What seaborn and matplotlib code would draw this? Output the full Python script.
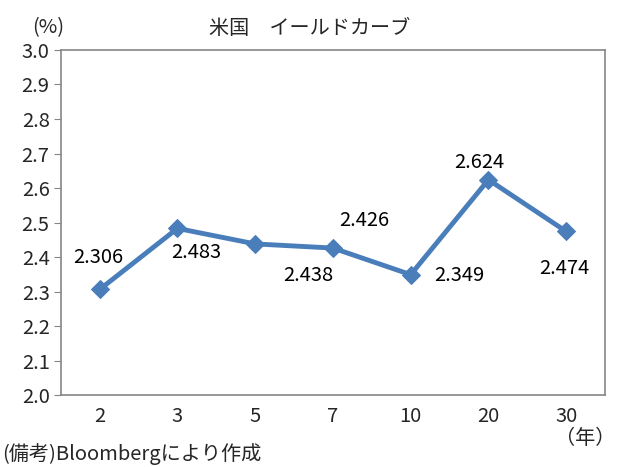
import matplotlib
matplotlib.use("Agg")
import numpy as np
import pandas as pd
import seaborn as sns
import matplotlib.pyplot as plt

# data
maturities = ["2", "3", "5", "7", "10", "20", "30"]
yields = [2.306, 2.483, 2.438, 2.426, 2.349, 2.624, 2.474]
# label offsets in pixels (dx, dy)
label_offsets = [(-1, 32), (19, -24), (53, -32), (31, 28), (49, -1), (-9, 17), (-2, -37)]

sns.set_style("white")
plt.rcParams['font.family'] = ['Noto Sans CJK JP', 'DejaVu Sans']

df = pd.DataFrame({"maturity": maturities, "yield": yields})

fig = plt.figure(figsize=(6.2, 4.67), dpi=100)
ax = fig.add_axes([0.098, 0.154, 0.878, 0.739])

line_color = "#4A7EBB"
sns.lineplot(data=df, x="maturity", y="yield", sort=False, ax=ax,
             color=line_color, linewidth=3.5, marker="D", markersize=9,
             markeredgecolor=line_color, markerfacecolor=line_color)

fs = 14.5
for i, (v, off) in enumerate(zip(yields, label_offsets)):
    ax.annotate(f"{v:.3f}", (i, v), xytext=off, textcoords="offset pixels",
                ha="center", va="center", fontsize=fs, color="black")

ax.set_xlim(-0.5, len(maturities) - 0.5)
ax.set_ylim(2.0, 3.0)
ax.set_yticks(np.arange(2.0, 3.01, 0.1))
ax.set_yticklabels([f"{t:.1f}" for t in np.arange(2.0, 3.01, 0.1)], fontsize=fs)
ax.tick_params(axis="x", length=0, labelsize=fs, pad=8)
ax.tick_params(axis="y", length=5, color="#868686", direction="out", left=True, pad=3)
ax.set_xlabel("")
ax.set_ylabel("")
for s in ax.spines.values():
    s.set_color("#868686")
    s.set_linewidth(1.2)

fig.text(0.5, 0.94, "米国　イールドカーブ", ha="center", va="center", fontsize=fs)
fig.text(0.078, 0.94, "(%)", ha="center", va="center", fontsize=fs)
fig.text(0.993, 0.062, "（年）", ha="right", va="center", fontsize=fs)
fig.text(0.003, 0.028, "(備考)Bloombergにより作成", ha="left", va="center", fontsize=fs)

fig.savefig("out.png", dpi=100)
